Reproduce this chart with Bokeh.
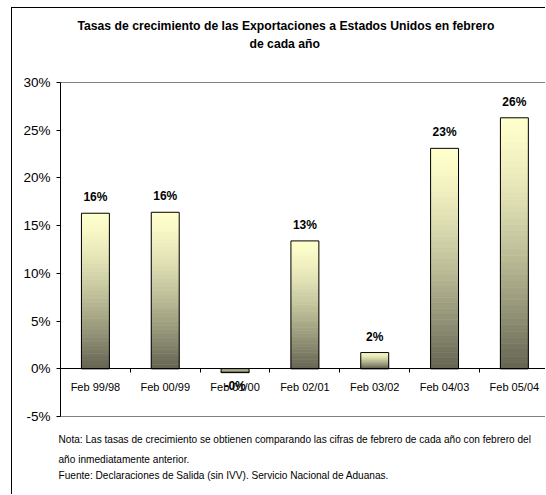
from bokeh.plotting import figure
from bokeh.models import Range1d, FixedTicker, Title
from bokeh.core.properties import value
from bokeh.embed import file_html
from bokeh.resources import INLINE

categories = ["Feb 99/98", "Feb 00/99", "Feb 01/00", "Feb 02/01", "Feb 03/02", "Feb 04/03", "Feb 05/04"]
growth = [16.3, 16.4, -0.4, 13.4, 1.7, 23.1, 26.3]
bar_labels = ["16%", "16%", "-0%", "13%", "2%", "23%", "26%"]
y_ticks = [-5, 0, 5, 10, 15, 20, 25, 30]

title_lines = ["Tasas de crecimiento de las Exportaciones a Estados Unidos en febrero",
               "de cada año"]
notes = ["Nota: Las tasas de crecimiento se obtienen comparando las cifras de febrero de cada año con febrero del",
         "año inmediatamente anterior.",
         "Fuente: Declaraciones de Salida (sin IVV). Servicio Nacional de Aduanas."]

FONT = "Liberation Sans"

W, H = 534, 487
p = figure(width=W, height=H, output_backend="svg", toolbar_location=None,
           x_range=Range1d(0, 6.96), y_range=Range1d(-5, 30),
           min_border_left=48, min_border_right=0, min_border_top=74, min_border_bottom=79)
p.styles = {"margin-left": "11px", "margin-top": "7px",
            "border-left": "1px solid #000", "border-top": "1px solid #000"}
p.grid.visible = False
p.outline_line_color = "#808080"

# gradient bars
top_c = (255, 255, 204)
bot_c = (100, 100, 82)
N = 40
L, R, B, T, C = [], [], [], [], []
for i, v in enumerate(growth):
    lo, hi = min(0, v), max(0, v)
    h = (hi - lo) / N
    for k in range(N):
        t = (k + 0.5) / N
        tt = t ** 1.4
        col = tuple(int(round(top_c[j] + (bot_c[j] - top_c[j]) * tt)) for j in range(3))
        L.append(i + 0.3)
        R.append(i + 0.7)
        T.append(hi - k * h)
        B.append(hi - (k + 1) * h)
        C.append("#%02x%02x%02x" % col)
p.quad(left=L, right=R, bottom=B, top=T, fill_color=C, line_color=C, line_width=0.6)
p.quad(left=[i + 0.3 for i in range(len(growth))], right=[i + 0.7 for i in range(len(growth))],
       bottom=[min(0, v) for v in growth], top=[max(0, v) for v in growth],
       fill_color=None, line_color="black", line_width=1)

pos = [i for i, v in enumerate(growth) if v >= 0]
neg = [i for i, v in enumerate(growth) if v < 0]
p.text(x=[i + 0.5 for i in pos], y=[growth[i] for i in pos], text=[bar_labels[i] for i in pos],
       text_align="center", text_baseline="bottom", y_offset=-9,
       text_font=value(FONT), text_font_style="bold", text_font_size="12px", text_color="black")
p.text(x=[i + 0.5 for i in neg], y=[growth[i] for i in neg], text=[bar_labels[i] for i in neg],
       text_align="center", text_baseline="top", y_offset=6,
       text_font=value(FONT), text_font_style="bold", text_font_size="12px", text_color="black")

ya = p.yaxis[0]
ya.ticker = FixedTicker(ticks=y_ticks)
ya.major_label_overrides = {t: f"{t}%" for t in y_ticks}
ya.major_label_text_font = FONT
ya.major_label_text_font_size = "13.5px"
ya.major_label_text_color = "black"
ya.axis_line_color = "black"
ya.major_tick_line_color = "black"
ya.major_tick_out = 4
ya.major_tick_in = 0
ya.minor_tick_line_color = None
ya.major_label_standoff = 6

xa = p.xaxis[0]
xa.fixed_location = 0
centers = [i + 0.5 for i in range(len(categories))]
xa.ticker = FixedTicker(ticks=centers, minor_ticks=list(range(len(categories) + 1)))
xa.major_label_overrides = {c: n for c, n in zip(centers, categories)}
xa.major_tick_line_color = None
xa.minor_tick_line_color = "black"
xa.minor_tick_out = 4
xa.minor_tick_in = 0
xa.axis_line_color = "black"
xa.major_label_text_font = FONT
xa.major_label_text_font_size = "11px"
xa.major_label_text_color = "black"
xa.major_label_standoff = 6

# title: spacer nearest the frame, then second line, then first line
p.add_layout(Title(text=" ", standoff=26.5, text_font_size="1px"), "above")
p.add_layout(Title(text=title_lines[1], align="left", offset=189, standoff=3.5,
                   text_font=FONT, text_font_style="bold", text_font_size="12.2px",
                   text_color="black"), "above")
p.add_layout(Title(text=title_lines[0], align="left", offset=17, standoff=-1.5,
                   text_font=FONT, text_font_style="bold", text_font_size="12.2px",
                   text_color="black"), "above")

# notes below
p.add_layout(Title(text=" ", standoff=9, text_font_size="1px"), "below")
for line, sd in zip(notes, [6.7, 6.7, -1.3]):
    p.add_layout(Title(text=line, align="left", offset=-2, standoff=sd,
                       text_font=FONT, text_font_style="normal", text_font_size="10.1px",
                       text_color="black"), "below")

open("out.html", "w").write(file_html(p, INLINE))
